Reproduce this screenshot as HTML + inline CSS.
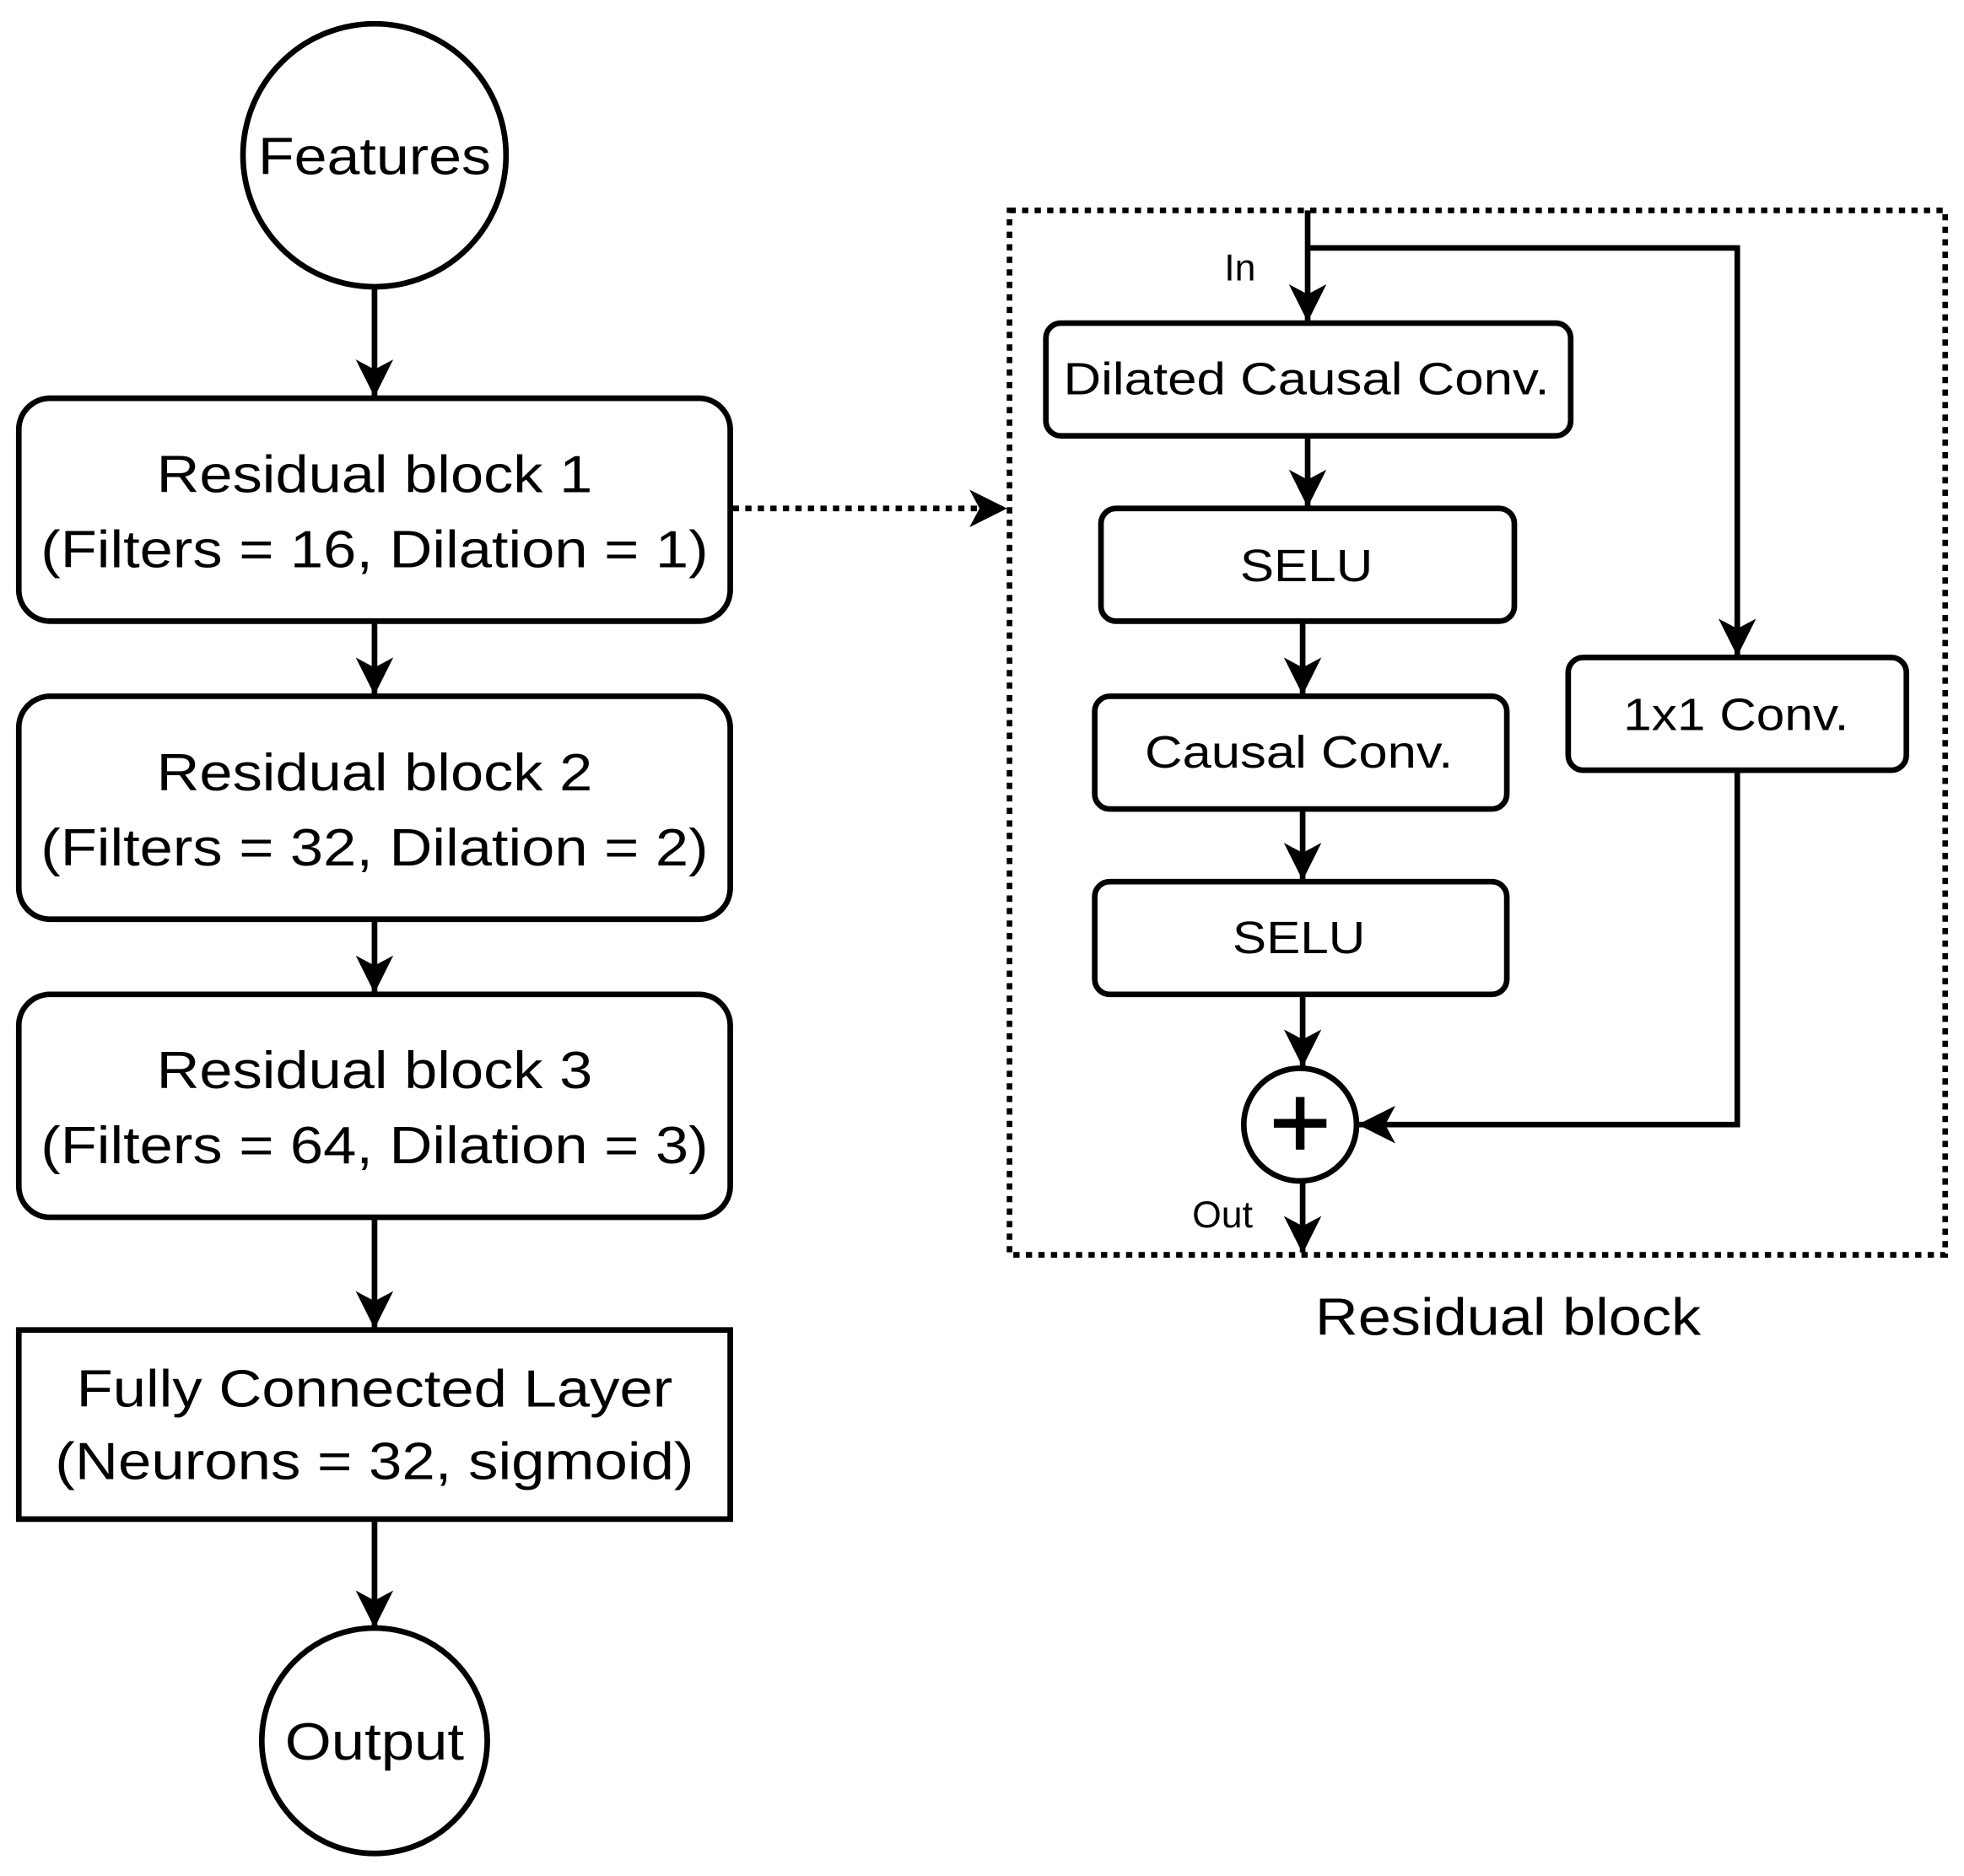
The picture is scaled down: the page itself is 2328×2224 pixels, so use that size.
<!DOCTYPE html>
<html><head><meta charset="utf-8"><style>html,body{margin:0;padding:0;background:#fff}svg{display:block}</style></head>
<body>
<svg width="2328" height="2224" viewBox="0 0 1568 1498" preserveAspectRatio="none" xmlns="http://www.w3.org/2000/svg" font-family="Liberation Sans, Arial, sans-serif">
<defs>
<marker id="a" viewBox="0 0 30 30" refX="29" refY="15" markerWidth="30" markerHeight="30" markerUnits="userSpaceOnUse" orient="auto">
<path d="M0,0 L30,15 L0,30 L8,15 Z" fill="#000"/>
</marker>
</defs>
<g fill="none" stroke="#000" stroke-width="4.5">
<circle cx="299" cy="124" r="105" fill="#fff"/>
<line x1="299" y1="229" x2="299" y2="316" marker-end="url(#a)"/>
<rect x="15" y="318" width="568" height="178" rx="25"/>
<line x1="299" y1="496" x2="299" y2="554" marker-end="url(#a)"/>
<rect x="15" y="556" width="568" height="178" rx="25"/>
<line x1="299" y1="734" x2="299" y2="792" marker-end="url(#a)"/>
<rect x="15" y="794" width="568" height="178" rx="25"/>
<line x1="299" y1="972" x2="299" y2="1060" marker-end="url(#a)"/>
<rect x="15" y="1062" width="568" height="151"/>
<line x1="299" y1="1213" x2="299" y2="1299" marker-end="url(#a)"/>
<circle cx="299" cy="1390" r="90"/>
<line x1="585" y1="406" x2="803" y2="406" stroke-dasharray="5,5" marker-end="url(#a)"/>
<rect x="806" y="168" width="747" height="834" stroke-dasharray="5,5"/>
<line x1="1044" y1="168" x2="1044" y2="256" marker-end="url(#a)"/>
<polyline points="1044,198 1387,198 1387,523" marker-end="url(#a)"/>
<rect x="835" y="258" width="419" height="90" rx="12"/>
<line x1="1044" y1="348" x2="1044" y2="404" marker-end="url(#a)"/>
<rect x="879" y="406" width="330" height="90" rx="12"/>
<line x1="1040" y1="496" x2="1040" y2="554" marker-end="url(#a)"/>
<rect x="874" y="556" width="329" height="90" rx="12"/>
<line x1="1040" y1="646" x2="1040" y2="702" marker-end="url(#a)"/>
<rect x="874" y="704" width="329" height="90" rx="12"/>
<line x1="1040" y1="794" x2="1040" y2="851" marker-end="url(#a)"/>
<rect x="1252" y="525" width="270" height="90" rx="12"/>
<polyline points="1387,615 1387,898 1085,898" marker-end="url(#a)"/>
<circle cx="1038" cy="898" r="45"/>
<line x1="1040" y1="943" x2="1040" y2="1000" marker-end="url(#a)"/>
<line x1="1017" y1="897" x2="1059" y2="897" stroke-width="7"/>
<line x1="1038" y1="876" x2="1038" y2="918" stroke-width="7"/>
</g>
<g fill="#000" text-anchor="middle" font-size="42">
<text x="299" y="139" textLength="186" lengthAdjust="spacingAndGlyphs">Features</text>
<text x="299" y="393" textLength="348" lengthAdjust="spacingAndGlyphs">Residual block 1</text>
<text x="299" y="453" textLength="533" lengthAdjust="spacingAndGlyphs">(Filters = 16, Dilation = 1)</text>
<text x="299" y="631" textLength="348" lengthAdjust="spacingAndGlyphs">Residual block 2</text>
<text x="299" y="691" textLength="533" lengthAdjust="spacingAndGlyphs">(Filters = 32, Dilation = 2)</text>
<text x="299" y="869" textLength="348" lengthAdjust="spacingAndGlyphs">Residual block 3</text>
<text x="299" y="929" textLength="533" lengthAdjust="spacingAndGlyphs">(Filters = 64, Dilation = 3)</text>
<text x="299" y="1123" textLength="476" lengthAdjust="spacingAndGlyphs">Fully Connected Layer</text>
<text x="299" y="1181" textLength="510" lengthAdjust="spacingAndGlyphs">(Neurons = 32, sigmoid)</text>
<text x="299" y="1405" textLength="143" lengthAdjust="spacingAndGlyphs">Output</text>
<text x="1204" y="1066" textLength="308" lengthAdjust="spacingAndGlyphs">Residual block</text>
</g>
<g fill="#000" text-anchor="middle" font-size="36">
<text x="1043" y="315" textLength="388" lengthAdjust="spacingAndGlyphs">Dilated Causal Conv.</text>
<text x="1043" y="464" textLength="106" lengthAdjust="spacingAndGlyphs">SELU</text>
<text x="1037" y="613" textLength="246" lengthAdjust="spacingAndGlyphs">Causal Conv.</text>
<text x="1037" y="761" textLength="106" lengthAdjust="spacingAndGlyphs">SELU</text>
<text x="1386" y="583" textLength="180" lengthAdjust="spacingAndGlyphs">1x1 Conv.</text>
<text x="990" y="224" font-size="30">In</text>
<text x="976" y="980" font-size="30">Out</text>
</g>
</svg>
</body></html>
